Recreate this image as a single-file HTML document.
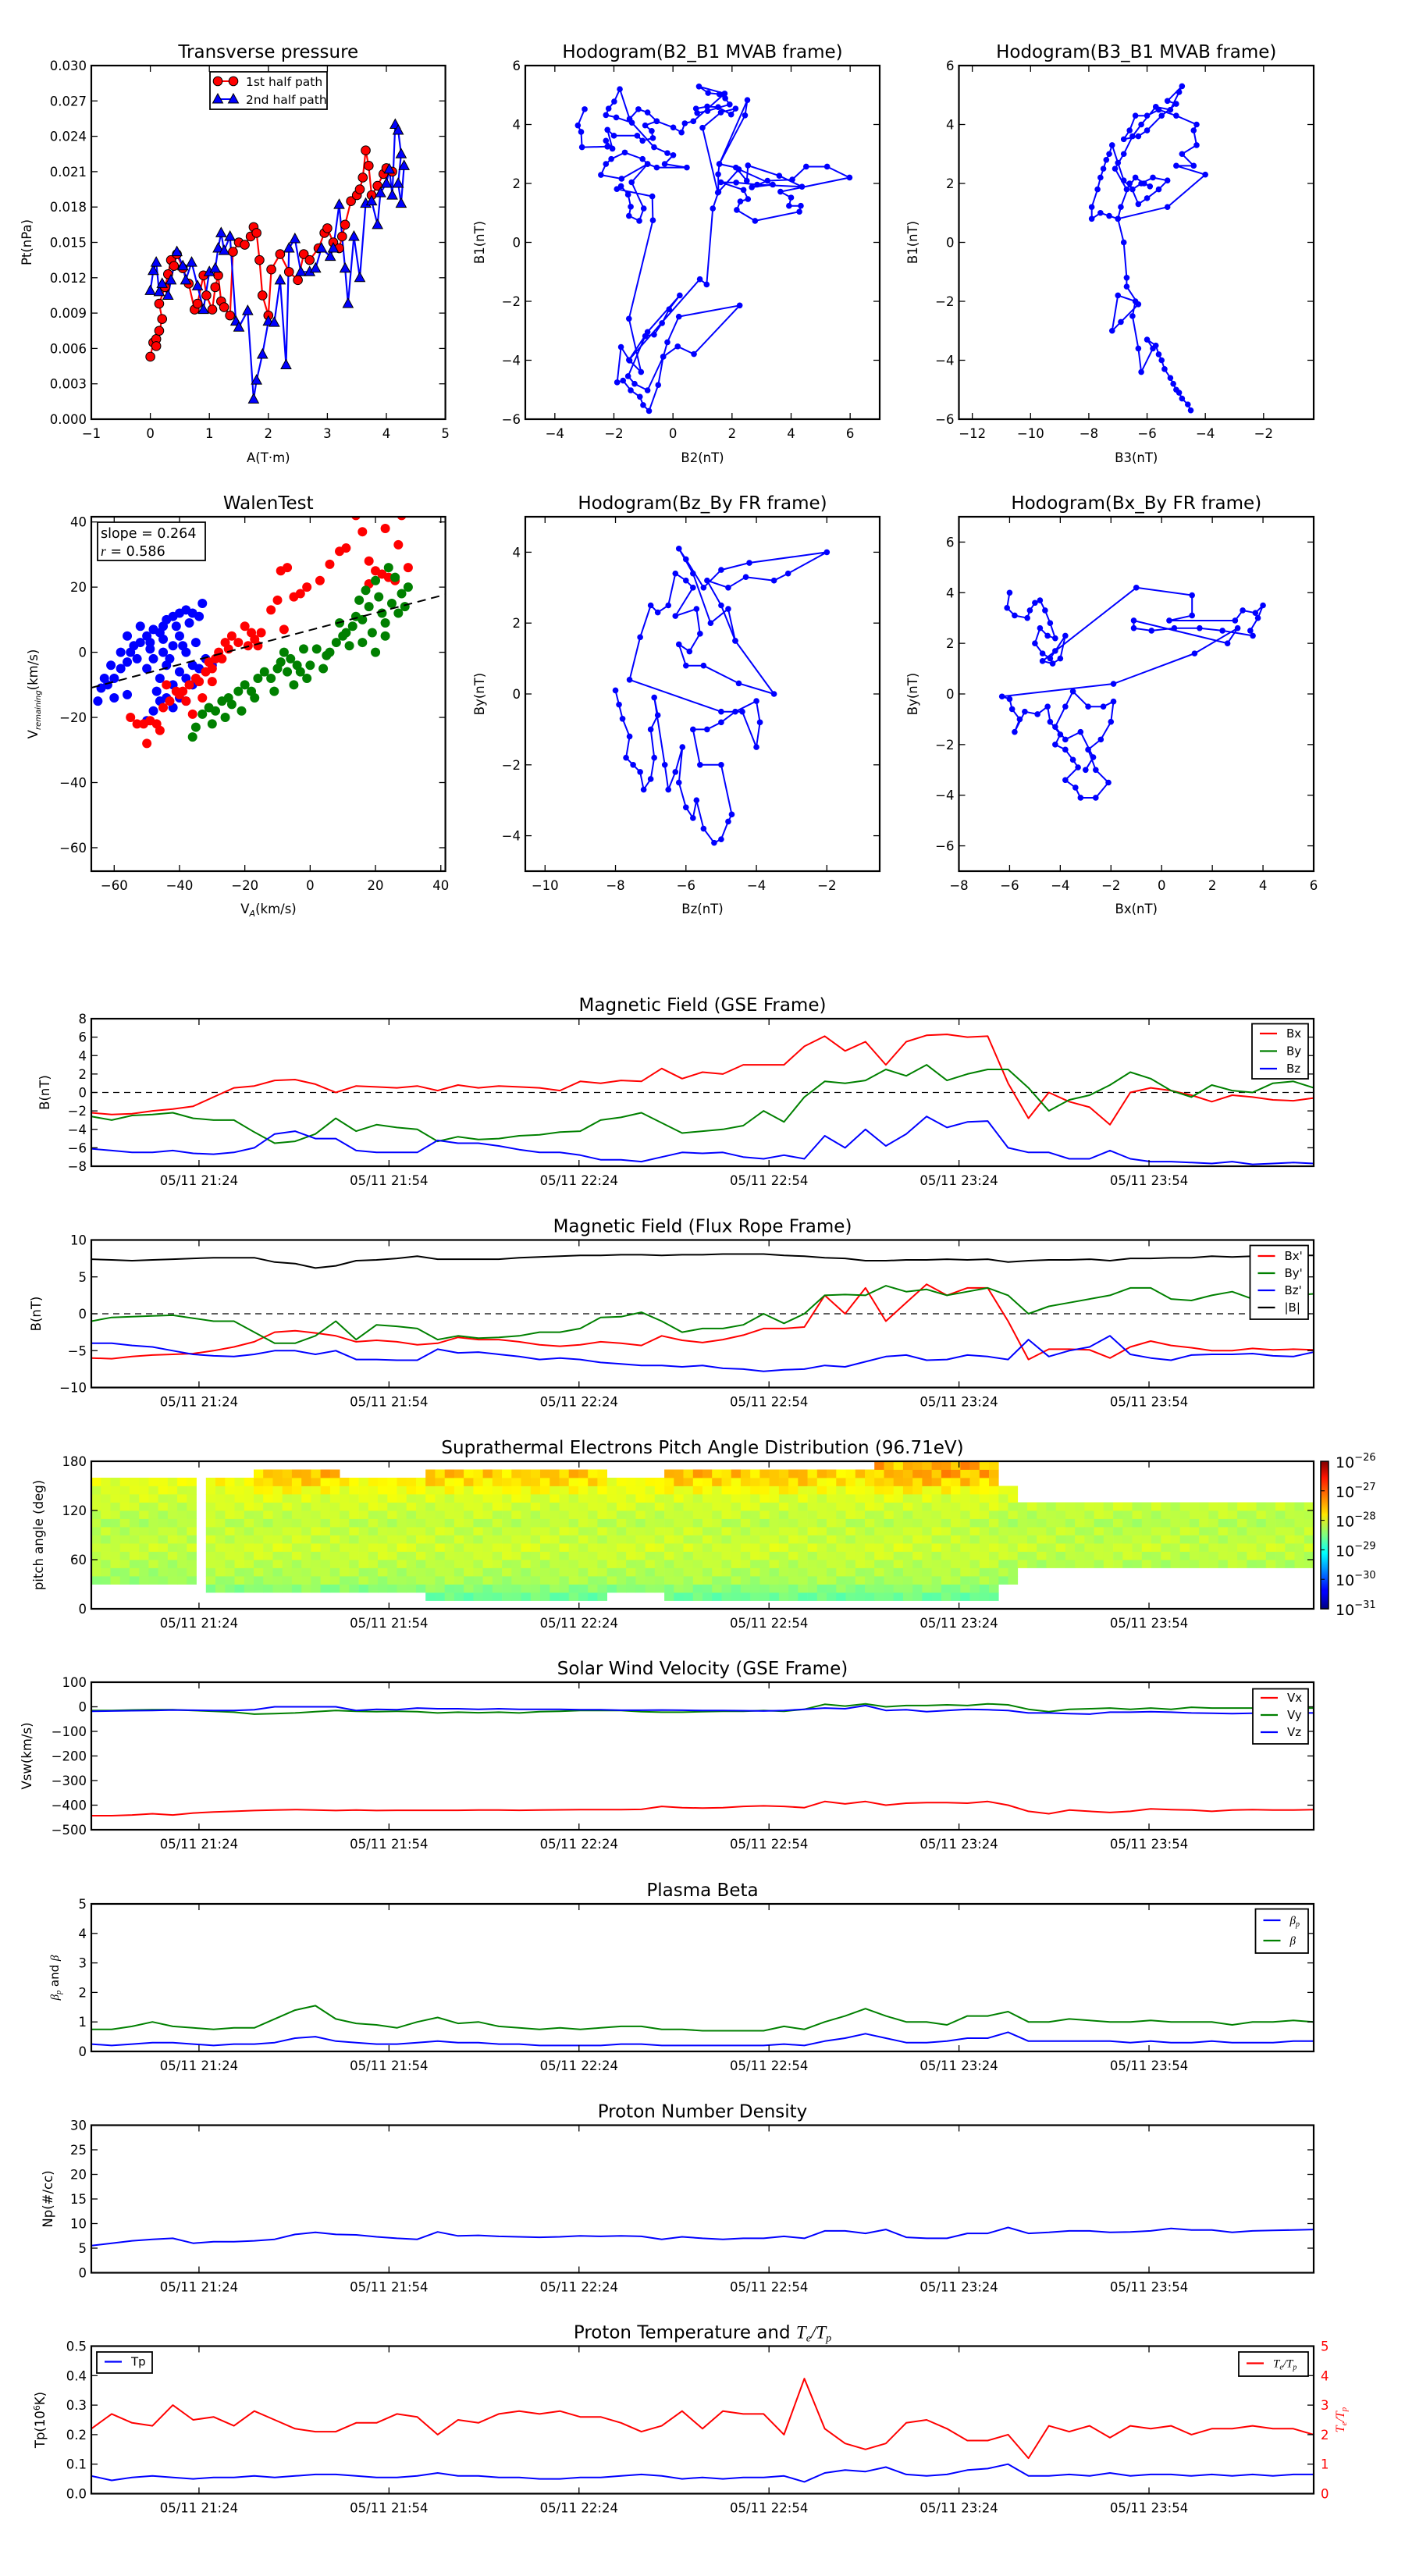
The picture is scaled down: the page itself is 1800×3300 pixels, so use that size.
<!DOCTYPE html>
<html><head><meta charset="utf-8"><title>Flux rope analysis</title>
<style>
html,body{margin:0;padding:0;background:#fff;}
svg{display:block;font-family:"DejaVu Sans","Liberation Sans",sans-serif;}
</style></head>
<body>
<svg id="fig" xmlns="http://www.w3.org/2000/svg" width="1800" height="3300" viewBox="0 0 1800 3300">
<rect x="0" y="0" width="1800" height="3300" fill="#fff"/>
<defs>
<linearGradient id="jetgrad" x1="0" y1="1" x2="0" y2="0">
<stop offset="0" stop-color="#00007f"/><stop offset="0.11" stop-color="#0000ff"/><stop offset="0.125" stop-color="#0000ff"/>
<stop offset="0.34" stop-color="#00dcff"/><stop offset="0.375" stop-color="#0ff"/><stop offset="0.5" stop-color="#80ff80"/>
<stop offset="0.64" stop-color="#ffe600"/><stop offset="0.66" stop-color="#ffd200"/><stop offset="0.89" stop-color="#ff1400"/><stop offset="1" stop-color="#7f0000"/>
</linearGradient>
</defs>
</svg>
<script>
// ---------------- DATA ----------------
const ptRedA=[0.0,0.05,0.1,0.15,0.1,0.2,0.15,0.25,0.3,0.35,0.4,0.45,0.55,0.65,0.75,0.8,0.9,0.95,1.05,1.1,1.15,1.2,1.25,1.35,1.4,1.5,1.6,1.7,1.75,1.8,1.85,1.9,2.0,2.05,2.2,2.35,2.5,2.6,2.7,2.85,2.95,3.0,3.1,3.2,3.25,3.3,3.4,3.5,3.55,3.6,3.65,3.7,3.75,3.85,3.95,4.0,4.1];
const ptRedP=[0.0053,0.0065,0.0068,0.0075,0.0062,0.0085,0.0098,0.0112,0.0123,0.0135,0.013,0.014,0.0128,0.0115,0.0093,0.0098,0.0122,0.0105,0.0093,0.0112,0.0122,0.0100,0.0095,0.0088,0.0142,0.0150,0.0148,0.0155,0.0163,0.0158,0.0135,0.0105,0.0088,0.0127,0.0140,0.0125,0.0118,0.0140,0.0135,0.0145,0.0158,0.0162,0.0150,0.0145,0.0155,0.0165,0.0185,0.0190,0.0195,0.0205,0.0228,0.0215,0.0190,0.0198,0.0208,0.0213,0.0210];
const ptBlueA=[0.0,0.05,0.1,0.15,0.2,0.3,0.35,0.45,0.55,0.6,0.7,0.8,0.9,1.0,1.1,1.15,1.2,1.25,1.35,1.45,1.5,1.65,1.75,1.8,1.9,2.0,2.1,2.2,2.3,2.35,2.45,2.55,2.7,2.8,2.9,3.05,3.1,3.2,3.3,3.35,3.45,3.55,3.65,3.75,3.85,3.9,4.0,4.05,4.1,4.15,4.2,4.25,4.2,4.25,4.3];
const ptBlueP=[0.0109,0.0126,0.0133,0.0108,0.0115,0.0105,0.0118,0.0142,0.0130,0.0118,0.0133,0.0113,0.0093,0.0125,0.0128,0.0145,0.0158,0.0143,0.0155,0.0083,0.0078,0.0092,0.0017,0.0033,0.0055,0.0083,0.0082,0.0118,0.0046,0.0145,0.0153,0.0125,0.0125,0.0128,0.0145,0.0138,0.0145,0.0182,0.0128,0.0098,0.0155,0.0120,0.0183,0.0185,0.0165,0.0192,0.0200,0.0212,0.0190,0.0250,0.0245,0.0225,0.0200,0.0183,0.0215];
const h1B2=[-2.99,-3.22,-3.11,-3.08,-2.22,-2.27,-2.05,-2.22,-2.00,-1.21,-1.03,-0.68,-0.72,-0.94,-0.55,-0.86,-1.17,-1.47,-1.80,-1.99,-2.18,-2.27,-1.92,-1.39,-0.64,-0.19,0.01,-0.28,0.47,-0.55,-0.86,-1.03,-1.63,-2.09,-2.27,-2.44,-1.74,-0.86,-1.40,-0.99,-1.14,-1.49,-1.43,-1.52,-1.76,-1.90,-0.70,-0.68,-1.49,-1.08,-1.47,-1.76,-1.89,-1.69,-1.43,-1.12,-1.01,-0.81,-0.50,-0.33,-0.19,0.20,2.26,0.71,0.16,-0.33,-0.86,-1.30,-1.52,-0.94,-0.64,-0.37,-0.13,0.23,-0.86,-1.49,0.91,1.14,1.35,1.54,1.53,1.57,2.52,2.44,1.57,2.13,2.50,2.54,3.60,4.37,2.85,2.14,1.62,2.39,2.54,2.28,2.16,2.78,4.28,4.33,3.93,4.00,3.64,5.98,5.22,4.51,4.04,3.20,2.67,3.38,2.23,1.52,1.00,1.62,2.12,1.97,1.53,1.16,0.78,0.82,1.17,1.92,1.77,1.57,1.19,0.88,1.75,0.69,0.40,0.29,0.01,-0.55];
const h1B1=[4.52,3.97,3.75,3.23,3.25,3.45,3.18,3.82,3.62,3.62,3.45,3.54,3.78,3.97,4.11,4.41,4.52,4.19,5.20,4.78,4.54,4.32,4.24,4.06,3.23,3.03,2.96,2.66,2.54,2.54,2.66,2.83,3.05,2.83,2.66,2.29,2.16,2.66,2.04,1.15,0.73,0.90,1.21,1.62,1.91,1.81,1.56,0.75,-2.59,-4.40,-4.01,-3.55,-4.75,-4.69,-5.02,-5.24,-5.52,-5.72,-4.84,-3.88,-3.39,-2.52,-2.14,-3.79,-3.53,-3.88,-5.02,-4.80,-4.54,-3.18,-3.13,-2.74,-2.27,-1.80,-3.04,-3.99,-1.25,-1.43,1.15,1.71,2.31,2.66,4.83,4.31,2.66,2.54,2.09,2.61,2.26,1.89,1.96,2.03,2.04,1.78,1.47,1.39,1.10,0.73,1.04,1.24,1.24,1.52,1.72,2.20,2.57,2.57,2.13,2.09,1.87,1.96,2.48,1.69,3.89,4.41,4.54,4.34,4.59,4.61,4.54,4.39,4.46,4.68,4.89,5.03,5.07,5.29,5.05,4.11,4.04,3.73,3.90,4.11];
const h2B3=[-4.5,-4.6,-4.8,-4.9,-5.0,-5.1,-5.2,-5.4,-5.5,-5.6,-5.7,-6.0,-5.8,-6.2,-6.3,-6.5,-6.4,-7.0,-7.2,-6.9,-6.3,-6.7,-6.7,-6.8,-7.0,-7.3,-7.6,-7.9,-7.9,-7.7,-7.6,-7.5,-7.4,-7.3,-7.2,-7.0,-6.8,-6.5,-6.2,-5.8,-5.3,-5.6,-6.0,-6.3,-6.6,-6.9,-7.0,-5.3,-4.0,-5.0,-4.4,-4.8,-4.3,-4.4,-4.3,-5.0,-5.6,-6.0,-6.4,-6.6,-6.8,-6.3,-6.0,-5.5,-5.0,-5.3,-4.8,-4.9,-5.2,-5.7,-6.2,-6.5,-6.8,-7.1,-6.7,-6.4,-6.1,-5.9];
const h2B1=[-5.7,-5.5,-5.3,-5.1,-5.0,-4.8,-4.6,-4.3,-4.0,-3.8,-3.5,-3.3,-3.6,-4.4,-3.6,-2.5,-2.0,-1.8,-3.0,-2.7,-2.1,-1.5,-1.2,0.0,0.8,0.9,1.0,0.8,1.2,1.8,2.2,2.5,2.8,3.0,3.3,2.7,2.1,1.8,2.0,2.2,2.1,1.8,1.5,1.3,2.0,1.2,0.8,1.2,2.3,2.6,2.6,3.0,3.3,3.8,4.0,4.3,4.5,4.3,4.3,3.8,3.5,3.6,3.8,4.3,4.7,4.8,5.3,5.1,4.5,4.6,4.0,3.6,3.0,2.5,1.8,2.2,2.0,1.9];
const walenBlueX=[-64,-62,-60,-58,-56,-55,-54,-52,-50,-49,-48,-46,-45,-44,-42,-40,-38,-36,-34,-33,-40,-42,-38,-35,-45,-48,-50,-44,-46,-42,-40,-38,-36,-34,-32,-44,-42,-46,-40,-38,-48,-50,-56,-60,-65,-63,-61,-58,-56,-52,-47,-36,-30,-39,-53,-45,-41,-37,-43,-49];
const walenBlueY=[-11,-10,-8,-5,-3,0,2,3,5,3,7,6,8,10,11,12,13,12,11,15,5,2,0,3,0,-2,-5,-4,-8,-10,-6,-8,-10,-5,-2,-14,-17,-15,-14,-15,-18,-21,-13,-14,-15,-8,-4,0,5,8,-12,-4,-4,2,-2,4,8,9,-2,1];
const walenRedX=[-55,-53,-51,-49,-50,-47,-46,-45,-43,-41,-40,-39,-37,-35,-34,-32,-31,-30,-29,-28,-27,-26,-24,-22,-20,-18,-17,-15,-12,-10,-8,-7,-5,-3,-1,3,6,9,11,14,16,18,20,22,24,26,27,28,30,18,-33,-36,-38,-44,-30,-25,-19,23,-9,-16];
const walenRedY=[-20,-22,-22,-21,-28,-22,-24,-17,-15,-12,-13,-12,-10,-8,-9,-6,-3,-5,-2,0,-2,3,5,3,8,6,4,6,13,16,7,26,17,18,20,22,27,31,32,42,37,28,25,24,23,22,33,42,26,21,-14,-19,-15,-10,-9,1,2,38,25,2];
const walenGreenX=[-36,-35,-33,-31,-29,-27,-25,-24,-22,-20,-18,-16,-14,-12,-10,-9,-8,-6,-4,-3,-2,0,2,4,6,8,10,12,13,14,15,16,17,18,19,20,21,22,23,24,25,26,27,28,29,30,16,11,5,-1,-5,-11,-17,-21,-26,-30,20,23,-7,9];
const walenGreenY=[-26,-23,-19,-17,-18,-15,-14,-16,-12,-10,-12,-8,-6,-8,-5,-3,0,-2,-4,-6,1,-4,1,-5,0,3,5,2,8,11,16,10,19,14,6,22,17,12,9,26,15,23,12,18,14,20,3,6,-1,-8,-10,-12,-14,-18,-20,-22,0,5,-6,9];
const walenSlope=0.264, walenIntercept=6.8;
const h3Bz=[-8.0,-7.9,-7.8,-7.6,-7.7,-7.5,-7.3,-7.2,-7.0,-6.9,-7.0,-6.8,-6.9,-6.6,-6.5,-6.3,-6.1,-6.2,-6.0,-5.8,-5.7,-5.5,-5.2,-5.0,-4.8,-4.7,-5.0,-5.6,-5.8,-5.4,-5.0,-4.6,-4.0,-3.9,-4.0,-4.4,-5.0,-7.6,-7.3,-7.0,-6.8,-6.5,-6.3,-6.0,-5.8,-6.3,-5.7,-5.6,-5.9,-6.2,-6.0,-5.5,-4.5,-3.5,-4.6,-5.0,-5.4,-4.8,-4.3,-3.5,-3.1,-2.0,-4.2,-5.0,-5.5,-6.0,-6.2,-5.8,-5.3,-4.8,-4.6];
const h3By=[0.1,-0.3,-0.7,-1.2,-1.8,-2.0,-2.2,-2.7,-2.4,-1.8,-1.0,-0.6,-0.1,-2.0,-2.7,-2.2,-1.5,-2.5,-3.2,-3.5,-3.0,-3.8,-4.2,-4.1,-3.6,-3.4,-2.0,-2.0,-1.0,-1.0,-0.8,-0.5,-0.2,-0.8,-1.5,-0.5,-0.5,0.4,1.6,2.5,2.3,2.5,3.4,3.2,3.0,2.2,2.4,1.7,1.2,1.4,0.8,0.8,0.3,0.0,1.5,2.5,3.2,3.0,3.3,3.2,3.4,4.0,3.7,3.5,3.0,3.8,4.1,3.4,2.0,2.4,1.5];
const h4Bx=[-6.0,-6.1,-5.8,-5.3,-5.2,-5.0,-4.8,-4.6,-4.4,-4.2,-4.5,-4.8,-5.0,-4.7,-4.4,-4.2,-3.8,-4.0,-4.3,-4.7,-1.0,1.2,1.2,0.3,2.9,3.2,3.7,4.0,3.8,3.5,3.6,2.4,1.5,0.5,-0.4,-1.1,-1.1,2.6,3.0,1.3,-1.9,-6.3,-6.0,-5.9,-5.6,-5.8,-5.4,-4.9,-4.5,-4.4,-4.0,-4.2,-3.8,-3.5,-3.3,-3.8,-3.4,-3.2,-2.6,-2.1,-2.6,-2.9,-2.4,-2.0,-1.9,-2.3,-2.9,-3.5,-3.8,-4.2,-3.8,-3.2,-2.7,-3.0];
const h4By=[4.0,3.4,3.1,3.0,3.3,3.6,3.7,3.3,2.8,2.2,2.3,2.6,2.0,1.6,1.4,1.7,2.3,1.4,1.2,1.3,4.2,3.9,3.1,2.9,2.9,3.3,3.2,3.5,3.0,2.5,2.3,2.5,2.6,2.6,2.5,2.6,2.9,2.0,2.6,1.6,0.4,-0.1,-0.2,-0.6,-1.0,-1.5,-0.7,-0.8,-0.5,-1.1,-1.6,-2.0,-2.2,-2.6,-2.9,-3.4,-3.7,-4.1,-4.1,-3.5,-3.0,-2.2,-1.8,-1.1,-0.3,-0.5,-0.5,0.1,-0.5,-1.3,-1.8,-1.5,-2.5,-3.0];

const tsStartMin=0, tsEndMin=193;
const timeTickMin=[17,47,77,107,137,167];
const timeTickLabels=['05/11 21:24','05/11 21:54','05/11 22:24','05/11 22:54','05/11 23:24','05/11 23:54'];
const gseBx=[-2.2,-2.4,-2.3,-2.0,-1.8,-1.5,-0.5,0.5,0.7,1.3,1.4,0.9,0.0,0.7,0.6,0.5,0.7,0.2,0.8,0.5,0.7,0.6,0.5,0.2,1.2,1.0,1.3,1.2,2.6,1.5,2.2,2.0,3.0,3.0,3.0,5.0,6.1,4.5,5.5,3.0,5.5,6.2,6.3,6.0,6.1,1.0,-2.8,0.0,-1.0,-1.6,-3.5,0.0,0.5,0.2,-0.3,-1.0,-0.3,-0.5,-0.8,-0.9,-0.6];
const gseBy=[-2.6,-3.0,-2.5,-2.4,-2.2,-2.8,-3.0,-3.0,-4.3,-5.5,-5.3,-4.5,-2.8,-4.2,-3.5,-3.8,-4.0,-5.3,-4.8,-5.1,-5.0,-4.7,-4.6,-4.3,-4.2,-3.0,-2.7,-2.2,-3.3,-4.4,-4.2,-4.0,-3.6,-2.0,-3.2,-0.5,1.2,1.0,1.3,2.5,1.8,3.0,1.3,2.0,2.5,2.5,0.5,-2.0,-0.8,-0.3,0.8,2.2,1.5,0.2,-0.5,0.8,0.2,0.0,1.0,1.2,0.5];
const gseBz=[-6.1,-6.3,-6.5,-6.5,-6.3,-6.6,-6.7,-6.5,-6.0,-4.5,-4.2,-5.0,-5.0,-6.3,-6.5,-6.5,-6.5,-5.2,-5.5,-5.5,-5.8,-6.2,-6.5,-6.5,-6.8,-7.3,-7.3,-7.5,-7.0,-6.5,-6.6,-6.5,-7.0,-7.2,-6.8,-7.2,-4.7,-6.0,-4.0,-5.8,-4.5,-2.6,-3.8,-3.2,-3.1,-6.0,-6.5,-6.5,-7.2,-7.2,-6.3,-7.2,-7.5,-7.5,-7.6,-7.7,-7.5,-7.8,-7.7,-7.6,-7.7];
const frBx=[-6.0,-6.1,-5.8,-5.6,-5.5,-5.4,-5.0,-4.5,-3.8,-2.5,-2.3,-2.6,-3.0,-3.8,-3.6,-3.8,-4.2,-4.0,-3.2,-3.5,-3.5,-3.8,-4.2,-4.4,-4.2,-3.8,-4.0,-4.3,-3.0,-3.6,-3.9,-3.5,-2.9,-2.0,-2.0,-1.8,2.5,0.0,3.5,-1.0,1.5,4.0,2.5,3.5,3.5,-1.0,-6.2,-4.8,-4.8,-4.9,-6.0,-4.5,-3.7,-4.3,-4.6,-5.0,-5.0,-4.7,-4.9,-4.8,-4.9];
const frBy=[-1.0,-0.5,-0.4,-0.3,-0.2,-0.6,-1.0,-1.0,-2.5,-4.0,-4.0,-3.0,-1.0,-3.5,-1.5,-1.7,-2.0,-3.5,-3.0,-3.3,-3.2,-3.0,-2.5,-2.5,-2.0,-0.5,-0.4,0.2,-1.0,-2.5,-2.0,-2.0,-1.5,0.0,-1.3,0.0,2.5,2.6,2.5,3.8,3.0,3.3,2.5,3.0,3.5,2.5,0.0,1.0,1.5,2.0,2.5,3.5,3.5,2.0,1.8,2.5,3.0,2.0,2.5,2.5,2.7];
const frBz=[-4.0,-4.0,-4.3,-4.5,-5.0,-5.5,-5.7,-5.8,-5.5,-5.0,-5.0,-5.5,-5.0,-6.2,-6.2,-6.3,-6.3,-4.8,-5.3,-5.2,-5.5,-5.8,-6.2,-6.0,-6.2,-6.6,-6.8,-7.0,-7.0,-7.2,-7.0,-7.4,-7.5,-7.8,-7.6,-7.5,-7.0,-7.2,-6.5,-5.8,-5.6,-6.3,-6.2,-5.6,-5.8,-6.2,-3.5,-5.8,-5.0,-4.5,-3.0,-5.5,-6.0,-6.3,-5.6,-5.5,-5.5,-5.4,-5.7,-5.8,-5.2];
const frBt=[7.4,7.3,7.2,7.3,7.4,7.5,7.6,7.6,7.6,7.0,6.8,6.2,6.5,7.2,7.3,7.5,7.8,7.4,7.4,7.4,7.4,7.6,7.7,7.8,7.9,7.9,8.0,8.0,7.9,8.0,8.0,8.1,8.1,8.1,7.9,7.8,7.6,7.5,7.2,7.2,7.3,7.3,7.4,7.3,7.4,7.0,7.2,7.3,7.3,7.4,7.2,7.5,7.5,7.6,7.6,7.8,7.7,7.8,7.8,7.9,7.9];
const velVx=[-443,-443,-440,-435,-440,-432,-428,-425,-422,-420,-418,-420,-422,-420,-422,-421,-421,-421,-421,-420,-420,-421,-420,-419,-418,-418,-418,-417,-405,-410,-412,-410,-405,-403,-405,-410,-385,-395,-385,-400,-392,-390,-390,-392,-385,-400,-425,-435,-420,-425,-430,-425,-415,-418,-420,-425,-420,-418,-420,-420,-418];
const velVy=[-15,-15,-13,-12,-12,-15,-18,-22,-30,-28,-25,-20,-15,-18,-20,-18,-20,-25,-22,-24,-22,-25,-20,-18,-15,-15,-15,-20,-22,-22,-20,-18,-18,-15,-18,-10,10,3,12,0,5,5,8,5,12,8,-10,-20,-10,-8,-5,-10,-5,-10,-2,-5,-5,-5,-8,-5,-5];
const velVz=[-18,-17,-16,-15,-13,-14,-15,-15,-12,0,0,0,0,-15,-10,-12,-5,-8,-8,-10,-8,-10,-10,-10,-12,-12,-14,-14,-13,-14,-15,-15,-16,-17,-15,-10,-5,-8,5,-15,-12,-20,-15,-10,-12,-15,-25,-25,-28,-30,-22,-22,-20,-22,-25,-26,-28,-26,-25,-25,-25];
const betaP=[0.25,0.2,0.25,0.3,0.3,0.25,0.2,0.25,0.25,0.3,0.45,0.5,0.35,0.3,0.25,0.25,0.3,0.35,0.3,0.3,0.25,0.25,0.2,0.2,0.2,0.2,0.25,0.25,0.2,0.2,0.2,0.2,0.2,0.2,0.25,0.2,0.35,0.45,0.6,0.45,0.3,0.3,0.35,0.45,0.45,0.65,0.35,0.35,0.35,0.35,0.35,0.3,0.35,0.3,0.3,0.35,0.3,0.3,0.3,0.35,0.35];
const betaT=[0.75,0.75,0.85,1.0,0.85,0.8,0.75,0.8,0.8,1.1,1.4,1.55,1.1,0.95,0.9,0.8,1.0,1.15,0.95,1.0,0.85,0.8,0.75,0.8,0.75,0.8,0.85,0.85,0.75,0.75,0.7,0.7,0.7,0.7,0.85,0.75,1.0,1.2,1.45,1.2,1.0,1.0,0.9,1.2,1.2,1.35,1.0,1.0,1.1,1.05,1.0,1.0,1.05,1.0,1.0,1.0,0.9,1.0,1.0,1.05,1.0];
const densNp=[5.5,6.0,6.5,6.8,7.0,6.0,6.3,6.3,6.5,6.8,7.8,8.2,7.8,7.7,7.3,7.0,6.8,8.3,7.5,7.6,7.4,7.3,7.2,7.3,7.5,7.4,7.5,7.4,6.8,7.3,7.0,6.8,7.0,7.0,7.4,7.0,8.5,8.5,8.0,8.8,7.2,7.0,7.0,8.0,8.0,9.2,8.0,8.2,8.5,8.5,8.2,8.3,8.5,9.0,8.7,8.7,8.2,8.5,8.6,8.7,8.8];
const tempTp=[0.06,0.045,0.055,0.06,0.055,0.05,0.055,0.055,0.06,0.055,0.06,0.065,0.065,0.06,0.055,0.055,0.06,0.07,0.06,0.06,0.055,0.055,0.05,0.05,0.055,0.055,0.06,0.065,0.06,0.05,0.055,0.05,0.055,0.055,0.06,0.04,0.07,0.08,0.075,0.09,0.065,0.06,0.065,0.08,0.085,0.1,0.06,0.06,0.065,0.06,0.07,0.06,0.065,0.065,0.06,0.065,0.06,0.065,0.06,0.065,0.065];
const tempRatio=[2.2,2.7,2.4,2.3,3.0,2.5,2.6,2.3,2.8,2.5,2.2,2.1,2.1,2.4,2.4,2.7,2.6,2.0,2.5,2.4,2.7,2.8,2.7,2.8,2.6,2.6,2.4,2.1,2.3,2.8,2.2,2.8,2.7,2.7,2.0,3.9,2.2,1.7,1.5,1.7,2.4,2.5,2.2,1.8,1.8,2.0,1.2,2.3,2.1,2.3,1.9,2.3,2.2,2.3,2.0,2.2,2.2,2.3,2.2,2.2,2.0];
// Pitch angle distribution (log10 flux)
const padRowBase=[-28.75,-28.6,-28.45,-28.3,-28.25,-28.2,-28.15,-28.1,-28.15,-28.15,-28.2,-28.15,-28.1,-28.05,-28.0,-27.95,-27.95,-27.95];
const padRowHotW=[0,0,0,0,0,0,0,0,0,0,0,0,0,0,0.3,0.7,1.0,1.0];
const padTexture=[0.0,-0.08,0.05,-0.12,0.08,-0.03,0.1,-0.06,0.02,-0.1,0.06,-0.02,0.12];
// segments: [firstCol, lastCol, topDeg, bottomDeg, hot, shift]
const padSegments=[[0,10,160,30,0,-0.05],[12,16,160,20,0.1,0],[17,25,170,20,0.35,0],[26,34,160,20,0.15,0],[35,53,170,15,0.3,0],[54,59,160,20,0.05,0],[60,74,170,15,0.35,0],[75,81,165,15,0.25,0],[82,94,175,15,0.45,0],[95,96,150,30,0,-0.05],[97,127,125,55,0,-0.05]];
const padNCols=128;
const cbarExp=[-26,-27,-28,-29,-30,-31];

// ---------------- DRAWING ----------------
const NS='http://www.w3.org/2000/svg';
const svg=document.getElementById('fig');
function mk(tag,attrs,parent){const e=document.createElementNS(NS,tag);for(const k in attrs)e.setAttribute(k,attrs[k]);(parent||svg).appendChild(e);return e;}
function lin(d0,d1,r0,r1){return v=>r0+(v-d0)/(d1-d0)*(r1-r0);}
const MINUS='\u2212';
function fmt(v,dec){let s=Math.abs(v).toFixed(dec);return (v<0?MINUS:'')+s;}
let clipId=0;
function makeAxes(x0,y0,x1,y1,xd,yd,name){
  const ax={x0,y0,x1,y1,sx:lin(xd[0],xd[1],x0,x1),sy:lin(yd[0],yd[1],y1,y0),name};
  const g=mk('g',{});
  
  
  ax.g=g;
  const cp=mk('clipPath',{id:'cp'+clipId});
  mk('rect',{x:x0,y:y0,width:x1-x0,height:y1-y0},cp);
  const pg=mk('g',{'clip-path':'url(#cp'+clipId+')'},g);
  
  
  ax.pg=pg;clipId++;
  return ax;
}
function frame(ax){
  const r=mk('rect',{x:ax.x0,y:ax.y0,width:ax.x1-ax.x0,height:ax.y1-ax.y0,fill:'none',stroke:'#000','stroke-width':2.2},ax.g);
  
  
}
function ticksX(ax,vals,labels){
  vals.forEach((v,i)=>{const x=ax.sx(v);
    const t1=mk('line',{x1:x,x2:x,y1:ax.y1,y2:ax.y1-8,stroke:'#000','stroke-width':1.3},ax.g);
    
    
    const t2=mk('line',{x1:x,x2:x,y1:ax.y0,y2:ax.y0+8,stroke:'#000','stroke-width':1.3},ax.g);
    
    
    const t=mk('text',{x:x,y:ax.y1+24,'text-anchor':'middle','font-size':16.5},ax.g);
    t.textContent=labels[i];
    
    
  });
}
function ticksY(ax,vals,labels,opt){
  opt=opt||{};
  vals.forEach((v,i)=>{const y=ax.sy(v);
    if(!opt.noLeft){const t1=mk('line',{x1:ax.x0,x2:ax.x0+8,y1:y,y2:y,stroke:'#000','stroke-width':1.3},ax.g);
    
    }
    if(!opt.noRight){const t2=mk('line',{x1:ax.x1,x2:ax.x1-8,y1:y,y2:y,stroke:'#000','stroke-width':1.3},ax.g);
    
    }
    if(!opt.noLabel){const t=mk('text',{x:ax.x0-6,y:y+6,'text-anchor':'end','font-size':16.5},ax.g);
    t.textContent=labels[i];
    
    }
  });
}
function title(ax,str,y){
  const t=mk('text',{x:(ax.x0+ax.x1)/2,y:y,'text-anchor':'middle','font-size':23},ax.g);
  t.textContent=str;
  
  
  return t;
}
function ylabel(ax,str,x,size){
  const cy=(ax.y0+ax.y1)/2;
  const t=mk('text',{x:x,y:cy,'text-anchor':'middle','font-size':size||16.5,transform:'rotate(-90 '+x+' '+cy+')'},ax.g);
  t.textContent=str;
  
  
  return t;
}
function xlabel(ax,str,y){
  const t=mk('text',{x:(ax.x0+ax.x1)/2,y:y,'text-anchor':'middle','font-size':16.5},ax.g);
  t.textContent=str;
  
  
  return t;
}
function linePath(ax,xs,ys,color,name,w){
  let d='';xs.forEach((x,i)=>{d+=(i?'L':'M')+ax.sx(x).toFixed(1)+' '+ax.sy(ys[i]).toFixed(1);});
  const p=mk('path',{d:d,fill:'none',stroke:color,'stroke-width':w||2,'stroke-linejoin':'round'},ax.pg);
  
  
  return p;
}
function range(a,b,s){const r=[];for(let v=a;v<=b+1e-9;v+=s)r.push(+v.toFixed(6));return r;}

// ---- Transverse pressure ----
(function(){
  const ax=makeAxes(117,84,570.6,537,[-1,5],[0,0.03],'transverse-pressure-chart');
  linePath(ax,ptRedA,ptRedP,'#f00','first-half-line',2.2);
  linePath(ax,ptBlueA,ptBlueP,'#00f','second-half-line',2.2);
  ptRedA.forEach((a,i)=>{const c=mk('circle',{cx:ax.sx(a),cy:ax.sy(ptRedP[i]),r:5.8,fill:'#f00',stroke:'#000','stroke-width':1},ax.pg);
    
    });
  ptBlueA.forEach((a,i)=>{const x=ax.sx(a),y=ax.sy(ptBlueP[i]);
    const p=mk('polygon',{points:`${x},${y-7} ${x-6.5},${y+5} ${x+6.5},${y+5}`,fill:'#00f',stroke:'#000','stroke-width':1},ax.pg);
    
    });
  frame(ax);
  ticksX(ax,range(-1,5,1),range(-1,5,1).map(v=>fmt(v,0)));
  ticksY(ax,range(0,0.03,0.003),range(0,0.03,0.003).map(v=>v.toFixed(3)));
  title(ax,'Transverse pressure',74);
  xlabel(ax,'A(T\u00b7m)',592);
  ylabel(ax,'Pt(nPa)',40);
  const lg=mk('g',{});
  
  
  const lb=mk('rect',{x:269,y:92,width:150,height:48,fill:'#fff',stroke:'#000','stroke-width':1.8},lg);
  
  
  const l1=mk('line',{x1:279,x2:299,y1:104,y2:104,stroke:'#f00','stroke-width':2},lg);
  
  
  [279,299].forEach(x=>{const c=mk('circle',{cx:x,cy:104,r:5.8,fill:'#f00',stroke:'#000'},lg);
    
    });
  const l2=mk('line',{x1:279,x2:299,y1:127,y2:127,stroke:'#00f','stroke-width':2},lg);
  
  
  [279,299].forEach(x=>{const p=mk('polygon',{points:`${x},${120} ${x-6.5},${132} ${x+6.5},${132}`,fill:'#00f',stroke:'#000'},lg);
    
    });
  const t1=mk('text',{x:315,y:110,'font-size':15.5},lg);t1.textContent='1st half path';
  
  
  const t2=mk('text',{x:315,y:133,'font-size':15.5},lg);t2.textContent='2nd half path';
  
  
})();

function hodogram(x0,y0,x1,y1,xd,yd,xs,ys,name,titleStr,xl,yl,xt,yt,titleY,xlY,ylX){
  const ax=makeAxes(x0,y0,x1,y1,xd,yd,name);
  linePath(ax,xs,ys,'#00f',name+'-path',2);
  xs.forEach((x,i)=>{const c=mk('circle',{cx:ax.sx(x),cy:ax.sy(ys[i]),r:3.8,fill:'#00f'},ax.pg);
    
    });
  frame(ax);
  ticksX(ax,xt,xt.map(v=>fmt(v,0)));
  ticksY(ax,yt,yt.map(v=>fmt(v,0)));
  title(ax,titleStr,titleY);xlabel(ax,xl,xlY);ylabel(ax,yl,ylX);
  return ax;
}
hodogram(673,84,1127,537,[-5,7],[-6,6],h1B2,h1B1,'hodogram-b2-b1','Hodogram(B2_B1 MVAB frame)','B2(nT)','B1(nT)',range(-4,6,2),range(-6,6,2),74,592,620);
hodogram(1228.5,84,1683,537,[-12.46,-0.28],[-6,6],h2B3,h2B1,'hodogram-b3-b1','Hodogram(B3_B1 MVAB frame)','B3(nT)','B1(nT)',range(-12,-2,2),range(-6,6,2),74,592,1175);
hodogram(673,662,1127,1116,[-10.56,-0.5],[-5,5],h3Bz,h3By,'hodogram-bz-by','Hodogram(Bz_By FR frame)','Bz(nT)','By(nT)',range(-10,-2,2),range(-4,4,2),652,1170,620);
hodogram(1228.5,662,1683,1116,[-8,6],[-7,7],h4Bx,h4By,'hodogram-bx-by','Hodogram(Bx_By FR frame)','Bx(nT)','By(nT)',range(-8,6,2),range(-6,6,2),652,1170,1175);

// ---- Walen test ----
(function(){
  const ax=makeAxes(117,662,570.6,1116,[-67,41.4],[-67.2,41.6],'walen-test-chart');
  const sets=[[walenBlueX,walenBlueY,'#00f','walen-blue-point'],[walenRedX,walenRedY,'#f00','walen-red-point'],[walenGreenX,walenGreenY,'#008000','walen-green-point']];
  sets.forEach(s=>{s[0].forEach((x,i)=>{const c=mk('circle',{cx:ax.sx(x),cy:ax.sy(s[1][i]),r:6,fill:s[2]},ax.pg);
    
    });});
  const fl=mk('line',{x1:ax.sx(-67),y1:ax.sy(walenSlope*-67+walenIntercept),x2:ax.sx(41.4),y2:ax.sy(walenSlope*41.4+walenIntercept),stroke:'#000','stroke-width':2,'stroke-dasharray':'11,7'},ax.pg);
  
  
  frame(ax);
  ticksX(ax,range(-60,40,20),range(-60,40,20).map(v=>fmt(v,0)));
  ticksY(ax,range(-60,40,20),range(-60,40,20).map(v=>fmt(v,0)));
  title(ax,'WalenTest',652);
  const xl=mk('text',{x:344,y:1170,'text-anchor':'middle','font-size':16.5},ax.g);
  xl.innerHTML='V<tspan font-size="11" dy="4" font-style="italic">A</tspan><tspan dy="-4">(km/s)</tspan>';
  
  
  const cy=889;
  const yl=mk('text',{x:48,y:cy,'text-anchor':'middle','font-size':16.5,transform:'rotate(-90 48 '+cy+')'},ax.g);
  yl.innerHTML='V<tspan font-size="10" dy="4" font-style="italic">remaining</tspan><tspan dy="-4">(km/s)</tspan>';
  
  
  const b=mk('rect',{x:125,y:669,width:138,height:49,fill:'#fff',stroke:'#000','stroke-width':1.8},ax.g);
  
  
  const s1=mk('text',{x:129,y:689,'font-size':17.5},ax.g);s1.textContent='slope = 0.264';
  
  
  const s2=mk('text',{x:129,y:712,'font-size':17.5},ax.g);
  s2.innerHTML='<tspan font-style="italic" font-family="Liberation Serif, serif">r</tspan> = 0.586';
  
  
})();

// ---- Time series panels ----
const TX0=117,TX1=1683,TH=189;
const panelTops=[1305,1588.5,1872,2155,2439,2722.5,3005.5];
function tsAxes(k,yd,name){return makeAxes(TX0,panelTops[k],TX1,panelTops[k]+TH,[tsStartMin,tsEndMin],yd,name);}
function tsX(n){const a=[];for(let i=0;i<n;i++)a.push(tsStartMin+i*(tsEndMin-tsStartMin)/(n-1));return a;}
function timeTicks(ax){ticksX(ax,timeTickMin,timeTickLabels);}
function legend(x0,y0,x1,y1,entries,name){
  const g=mk('g',{});
  
  
  const r=mk('rect',{x:x0,y:y0,width:x1-x0,height:y1-y0,fill:'#fff',stroke:'#000','stroke-width':1.8},g);
  
  
  entries.forEach(e=>{
    const l=mk('line',{x1:x0+10,x2:x0+32,y1:e.y,y2:e.y,stroke:e.c,'stroke-width':2.2},g);
    
    
    const t=mk('text',{x:x0+44,y:e.y+5,'font-size':15},g);
    t.innerHTML=e.t;
    
    
  });
}
function zeroLine(ax){
  const z=mk('line',{x1:ax.x0,x2:ax.x1,y1:ax.sy(0),y2:ax.sy(0),stroke:'#000','stroke-width':1.2,'stroke-dasharray':'8,6'},ax.pg);
  
  
}
(function(){
  const ax=tsAxes(0,[-8,8],'magnetic-field-gse-chart');const xs=tsX(gseBx.length);
  zeroLine(ax);
  linePath(ax,xs,gseBx,'#f00','series-bx');linePath(ax,xs,gseBy,'#008000','series-by');linePath(ax,xs,gseBz,'#00f','series-bz');
  frame(ax);timeTicks(ax);
  const yt=range(-8,8,2);ticksY(ax,yt,yt.map(v=>fmt(v,0)));
  title(ax,'Magnetic Field (GSE Frame)',ax.y0-10);ylabel(ax,'B(nT)',63);
  legend(1604,1311.5,1676,1382,[{y:1324,c:'#f00',t:'Bx'},{y:1346.5,c:'#008000',t:'By'},{y:1369,c:'#00f',t:'Bz'}],'gse-legend');
})();
(function(){
  const ax=tsAxes(1,[-10,10],'magnetic-field-flux-rope-chart');const xs=tsX(frBx.length);
  zeroLine(ax);
  linePath(ax,xs,frBt,'#000','series-btotal');linePath(ax,xs,frBx,'#f00','series-bx-prime');linePath(ax,xs,frBy,'#008000','series-by-prime');linePath(ax,xs,frBz,'#00f','series-bz-prime');
  frame(ax);timeTicks(ax);
  const yt=range(-10,10,5);ticksY(ax,yt,yt.map(v=>fmt(v,0)));
  title(ax,'Magnetic Field (Flux Rope Frame)',ax.y0-10);ylabel(ax,'B(nT)',52);
  legend(1601.5,1595.5,1676,1690,[{y:1609,c:'#f00',t:"Bx'"},{y:1631,c:'#008000',t:"By'"},{y:1653,c:'#00f',t:"Bz'"},{y:1675,c:'#000',t:'|B|'}],'flux-rope-legend');
})();
function jet(v){v=Math.max(0,Math.min(1,v));const c=x=>Math.round(255*Math.max(0,Math.min(1,1.5-Math.abs(x))));return 'rgb('+c(4*v-3)+','+c(4*v-2)+','+c(4*v-1)+')';}
(function(){
  const ax=tsAxes(2,[0,180],'pitch-angle-chart');
  const colW=(tsEndMin-tsStartMin)/padNCols;
  padSegments.forEach(seg=>{
    for(let c=seg[0];c<=seg[1];c++){
      for(let j=0;j<18;j++){
        const lo=j*10,hi=lo+10;
        if(lo+5>seg[2]||lo+5<seg[3])continue;
        const tex=padTexture[(c*5+j*3)%padTexture.length];
        const val=padRowBase[j]+seg[4]*padRowHotW[j]*(1+3*tex)+seg[5]+tex;
        const x=ax.sx(c*colW),x2=ax.sx((c+1)*colW);
        const r=mk('rect',{x:x.toFixed(1),y:ax.sy(hi).toFixed(1),width:(x2-x+0.4).toFixed(1),height:(ax.sy(lo)-ax.sy(hi)+0.4).toFixed(1),fill:jet((val+31)/5)},ax.pg);
        
        
      }
    }
  });
  frame(ax);timeTicks(ax);
  const yt=[0,60,120,180];ticksY(ax,yt,yt.map(v=>String(v)));
  title(ax,'Suprathermal Electrons Pitch Angle Distribution (96.71eV)',ax.y0-10);ylabel(ax,'pitch angle (deg)',55);
  const cb=mk('rect',{x:1692,y:ax.y0,width:10,height:TH,fill:'url(#jetgrad)',stroke:'#000','stroke-width':1.5});
  
  
  cbarExp.forEach((e,i)=>{const y=ax.y0+i*TH/5;
    const t=mk('text',{x:1711,y:y+8,'font-size':19});
    t.innerHTML='10<tspan font-size="13" dy="-9">'+MINUS+String(-e)+'</tspan>';
    
    
    const tk=mk('line',{x1:1692,x2:1697,y1:y,y2:y,stroke:'#000'});
    
    
  });
})();
(function(){
  const ax=tsAxes(3,[-500,100],'solar-wind-velocity-chart');const xs=tsX(velVx.length);
  linePath(ax,xs,velVx,'#f00','series-vx');linePath(ax,xs,velVy,'#008000','series-vy');linePath(ax,xs,velVz,'#00f','series-vz');
  frame(ax);timeTicks(ax);
  const yt=range(-500,100,100);ticksY(ax,yt,yt.map(v=>fmt(v,0)));
  title(ax,'Solar Wind Velocity (GSE Frame)',ax.y0-10);ylabel(ax,'Vsw(km/s)',40);
  legend(1605,2163.5,1676,2234,[{y:2175,c:'#f00',t:'Vx'},{y:2197,c:'#008000',t:'Vy'},{y:2219,c:'#00f',t:'Vz'}],'velocity-legend');
})();
(function(){
  const ax=tsAxes(4,[0,5],'plasma-beta-chart');const xs=tsX(betaP.length);
  linePath(ax,xs,betaP,'#00f','series-beta-p');linePath(ax,xs,betaT,'#008000','series-beta');
  frame(ax);timeTicks(ax);
  const yt=range(0,5,1);ticksY(ax,yt,yt.map(v=>fmt(v,0)));
  title(ax,'Plasma Beta',ax.y0-10);
  const cy=ax.y0+TH/2;
  const yl=mk('text',{x:75,y:cy,'text-anchor':'middle','font-size':15,transform:'rotate(-90 75 '+cy+')'},ax.g);
  yl.innerHTML='<tspan font-style="italic" font-family="Liberation Serif, serif">\u03b2<tspan font-size="10" dy="3">p</tspan></tspan><tspan dy="-3"> and </tspan><tspan font-style="italic" font-family="Liberation Serif, serif">\u03b2</tspan>';
  
  
  legend(1608.5,2445.5,1676,2502,[{y:2460,c:'#00f',t:'<tspan font-style="italic" font-family="Liberation Serif, serif">\u03b2<tspan font-size="10" dy="3">p</tspan></tspan>'},{y:2486,c:'#008000',t:'<tspan font-style="italic" font-family="Liberation Serif, serif">\u03b2</tspan>'}],'beta-legend');
})();
(function(){
  const ax=tsAxes(5,[0,30],'proton-density-chart');const xs=tsX(densNp.length);
  linePath(ax,xs,densNp,'#00f','series-np');
  frame(ax);timeTicks(ax);
  const yt=range(0,30,5);ticksY(ax,yt,yt.map(v=>fmt(v,0)));
  title(ax,'Proton Number Density',ax.y0-10);ylabel(ax,'Np(#/cc)',67);
})();
(function(){
  const ax=tsAxes(6,[0,0.5],'proton-temperature-chart');const xs=tsX(tempTp.length);
  const ry=lin(0,5,ax.y1,ax.y0);
  const ax2={sx:ax.sx,sy:ry,pg:ax.pg};
  linePath(ax,xs,tempTp,'#00f','series-tp');
  linePath(ax2,xs,tempRatio,'#f00','series-te-tp');
  frame(ax);timeTicks(ax);
  const yt=range(0,0.5,0.1);ticksY(ax,yt,yt.map(v=>v.toFixed(1)),{noRight:true});
  range(0,5,1).forEach(v=>{const y=ry(v);
    const tk=mk('line',{x1:ax.x1,x2:ax.x1-8,y1:y,y2:y,stroke:'#000','stroke-width':1.3},ax.g);
    
    
    const t=mk('text',{x:ax.x1+9,y:y+6,'font-size':16.5,fill:'#f00'},ax.g);t.textContent=String(v);
    
    });
  const tt=title(ax,'',ax.y0-10);
  tt.innerHTML='Proton Temperature and <tspan font-style="italic" font-family="Liberation Serif, serif">T<tspan font-size="14" dy="4">e</tspan><tspan dy="-4">/T</tspan><tspan font-size="14" dy="4">p</tspan></tspan>';
  const yl=ylabel(ax,'',57);
  yl.innerHTML='Tp(10<tspan font-size="11" dy="-6">6</tspan><tspan dy="6">K)</tspan>';
  const cy=ax.y0+TH/2;
  const yr=mk('text',{x:1722,y:cy,'text-anchor':'middle','font-size':16,fill:'#f00','font-style':'italic','font-family':'Liberation Serif, serif',transform:'rotate(-90 1722 '+cy+')'},ax.g);
  yr.innerHTML='T<tspan font-size="11" dy="3">e</tspan><tspan dy="-3">/T</tspan><tspan font-size="11" dy="3">p</tspan>';
  
  
  legend(124,3013,195,3040,[{y:3025.5,c:'#00f',t:'Tp'}],'tp-legend');
  legend(1587,3013,1676,3044,[{y:3027.5,c:'#f00',t:'<tspan font-style="italic" font-family="Liberation Serif, serif">T<tspan font-size="10" dy="3">e</tspan><tspan dy="-3">/T</tspan><tspan font-size="10" dy="3">p</tspan></tspan>'}],'te-tp-legend');
})();
</script>
</body></html>
